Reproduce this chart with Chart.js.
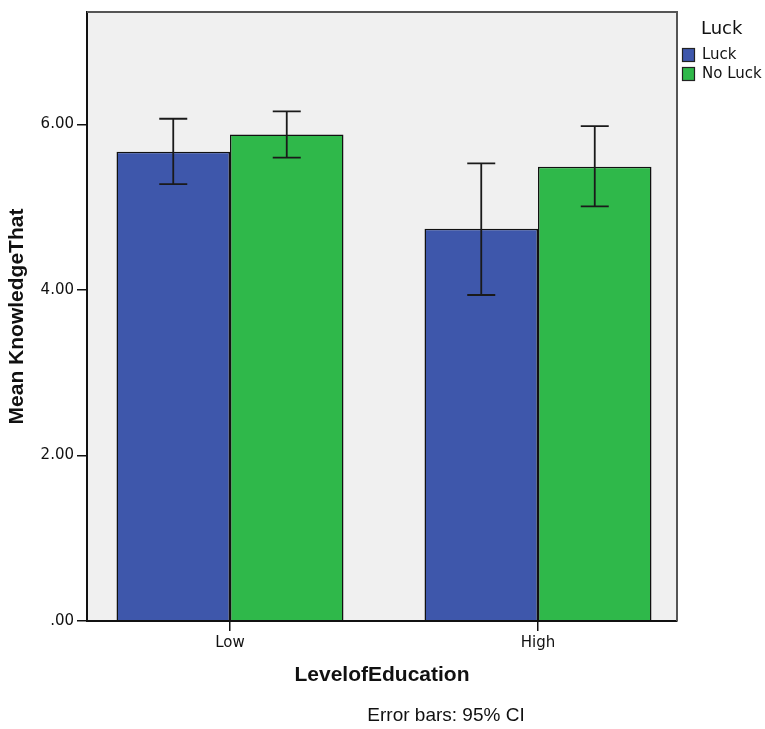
<!DOCTYPE html>
<html>
<head>
<meta charset="utf-8">
<script src="https://cdn.jsdelivr.net/npm/chart.js@4"></script>
<style>
  body { margin: 0; background: #fff; }
  #wrap { width: 765px; height: 729px; position: relative; }
</style>
</head>
<body>
<div id="wrap"><canvas id="chart"></canvas></div>
<script>
// 데이터
const categories = ['Low', 'High'];
const seriesNames = ['Luck', 'No Luck'];
const luckMeans = [5.67, 4.74];
const noLuckMeans = [5.88, 5.49];
const luckLower = [5.28, 3.94];
const luckUpper = [6.07, 5.53];
const noLuckLower = [5.60, 5.01];
const noLuckUpper = [6.16, 5.98];
const yTicks = [0, 2, 4, 6];

const seriesColors = ['#3e57ab', '#2fb84a'];
const lowerBounds = [luckLower, noLuckLower];
const upperBounds = [luckUpper, noLuckUpper];

// 배경, 테두리, 오차막대, 범례
const decorPlugin = {
  id: 'decor',
  beforeDraw(chart) {
    const { ctx, chartArea: a } = chart;
    ctx.save();
    ctx.fillStyle = '#ffffff';
    ctx.fillRect(0, 0, chart.width, chart.height);
    ctx.fillStyle = '#f0f0f0';
    ctx.fillRect(a.left, a.top, a.right - a.left, a.bottom - a.top);
    ctx.restore();
  },
  afterDatasetsDraw(chart) {
    const { ctx } = chart;
    const y = chart.scales.y;
    ctx.save();
    ctx.strokeStyle = '#1a1a1a';
    ctx.lineWidth = 1.8;
    chart.data.datasets.forEach((ds, i) => {
      const meta = chart.getDatasetMeta(i);
      meta.data.forEach((bar, j) => {
        const yl = y.getPixelForValue(lowerBounds[i][j]);
        const yu = y.getPixelForValue(upperBounds[i][j]);
        const half = 14;
        ctx.beginPath();
        ctx.moveTo(bar.x, yl);
        ctx.lineTo(bar.x, yu);
        ctx.moveTo(bar.x - half, yl);
        ctx.lineTo(bar.x + half, yl);
        ctx.moveTo(bar.x - half, yu);
        ctx.lineTo(bar.x + half, yu);
        ctx.stroke();
      });
    });
    ctx.restore();
  },
  afterDraw(chart) {
    const { ctx, chartArea: a } = chart;
    ctx.save();
    // 위쪽, 오른쪽 테두리
    ctx.strokeStyle = '#555555';
    ctx.lineWidth = 2;
    ctx.beginPath();
    ctx.moveTo(a.left, a.top);
    ctx.lineTo(a.right, a.top);
    ctx.lineTo(a.right, a.bottom);
    ctx.stroke();

    // 범례
    ctx.fillStyle = '#111';
    ctx.textBaseline = 'middle';
    ctx.textAlign = 'left';
    ctx.font = '18px "DejaVu Sans"';
    ctx.fillText('Luck', 701, 29);
    ctx.font = '15px "DejaVu Sans"';
    chart.data.datasets.forEach((ds, i) => {
      const top = 48 + i * 19;
      ctx.fillStyle = ds.backgroundColor;
      ctx.fillRect(682, top, 13, 14);
      ctx.strokeStyle = '#222';
      ctx.lineWidth = 1.2;
      ctx.strokeRect(682.5, top + 0.5, 12, 13);
      ctx.fillStyle = '#111';
      ctx.fillText(ds.label, 702, top + 7);
    });

    // 주석
    ctx.font = '19px "Liberation Sans"';
    ctx.textAlign = 'center';
    ctx.fillText('Error bars: 95% CI', 446, 716);
    ctx.restore();
  }
};

const ctx = document.getElementById('chart').getContext('2d');
const chart = new Chart(ctx, {
  type: 'bar',
  data: {
    datasets: [
      {
        label: seriesNames[0],
        data: categories.map((c, i) => ({ x: i, y: luckMeans[i] })),
        backgroundColor: seriesColors[0],
        borderColor: '#111',
        borderWidth: 1.5
      },
      {
        label: seriesNames[1],
        data: categories.map((c, i) => ({ x: i, y: noLuckMeans[i] })),
        backgroundColor: seriesColors[1],
        borderColor: '#111',
        borderWidth: 1.5
      }
    ]
  },
  options: {
    responsive: true,
    maintainAspectRatio: false,
    animation: false,
    categoryPercentage: 0.737,
    barPercentage: 1,
    layout: { padding: { top: 8, right: 88, left: 0, bottom: 40 } },
    scales: {
      x: {
        type: 'linear',
        offset: false,
        min: -0.4643,
        max: 1.4513,
        afterBuildTicks: (s) => { s.ticks = categories.map((c, i) => ({ value: i })); },
        afterFit: (s) => { s.height = 68; },
        grid: { offset: false, drawOnChartArea: false, drawTicks: true, tickLength: 10, color: '#111', lineWidth: 1.5 },
        border: { display: true, color: '#111', width: 2, z: 1 },
        ticks: {
          padding: 3,
          color: '#111',
          font: { family: 'DejaVu Sans', size: 15 },
          callback: (v) => categories[v]
        },
        title: {
          display: true,
          text: 'LevelofEducation',
          color: '#111',
          font: { family: 'Liberation Sans', size: 21, weight: 'bold' },
          padding: { top: 0, bottom: 1 }
        }
      },
      y: {
        min: 0,
        max: 7.36,
        afterBuildTicks: (s) => { s.ticks = yTicks.map(v => ({ value: v })); },
        afterFit: (s) => { s.width = 87; },
        grid: { drawOnChartArea: false, drawTicks: true, tickLength: 10, color: '#111', lineWidth: 1.5 },
        border: { display: true, color: '#111', width: 2, z: 1 },
        ticks: {
          padding: 3,
          color: '#111',
          font: { family: 'DejaVu Sans', size: 15 },
          callback: (v) => v === 0 ? '.00' : v.toFixed(2)
        },
        title: {
          display: true,
          text: 'Mean KnowledgeThat',
          color: '#111',
          font: { family: 'Liberation Sans', size: 21, weight: 'bold' },
          padding: { top: 5, bottom: 0 }
        }
      }
    },
    plugins: {
      legend: { display: false },
      tooltip: { enabled: false }
    }
  },
  plugins: [decorPlugin]
});
</script>
</body>
</html>
